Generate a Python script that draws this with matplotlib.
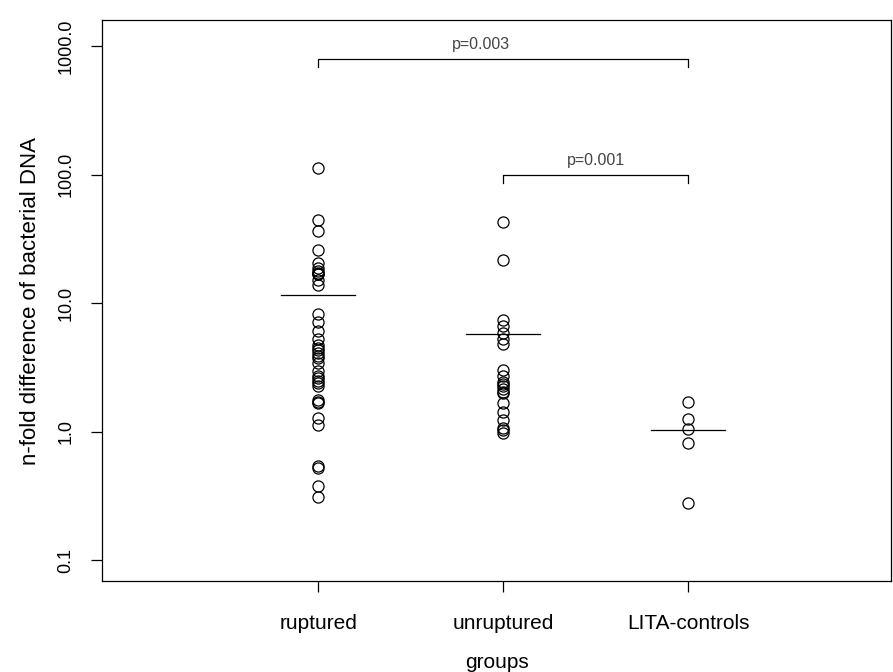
import numpy as np
import matplotlib
matplotlib.use("Agg")
import matplotlib.pyplot as plt

plt.rcParams['font.family'] = ['Liberation Sans', 'DejaVu Sans']

groups = ['ruptured', 'unruptured', 'LITA-controls']

# values (n-fold difference)
ruptured = [112.8, 44.1, 36.7, 26.1, 20.5, 18.9, 17.7, 17.2, 16.9, 16.7, 15.2, 13.9,
            8.24, 7.09, 6.04, 5.26, 4.75, 4.5, 4.3, 4.12, 3.9, 3.76, 3.44, 2.95,
            2.69, 2.6, 2.46, 2.4, 2.25, 1.77, 1.7, 1.67, 1.28, 1.13, 0.54, 0.52,
            0.38, 0.31]
unruptured = [42.5, 21.8, 7.44, 6.68, 5.89, 5.29, 4.84, 3.04, 2.73, 2.45, 2.35,
              2.28, 2.16, 2.05, 2.01, 1.68, 1.43, 1.24, 1.07, 1.02, 0.98]
lita = [1.69, 1.26, 1.05, 0.82, 0.28]

data = [ruptured, unruptured, lita]

# comparisons: from group, to group, label, bracket height, label x
comparisons = [(1, 3, 'p=0.003', 800.0, 1.88), (2, 3, 'p=0.001', 100.0, 2.5)]

ytick_vals = [0.1, 1.0, 10.0, 100.0, 1000.0]

fig = plt.figure(figsize=(8.93, 6.72), dpi=100)
ax = fig.add_axes([0.1142, 0.1354, 0.8838, 0.8346])

for i, vals in enumerate(data):
    x = np.full(len(vals), i + 1)
    ax.plot(x, vals, 'o', mfc='none', mec='black', ms=8, mew=0.9)
    m = np.mean(vals)
    ax.plot([i + 1 - 0.2, i + 1 + 0.2], [m, m], color='black', lw=0.9)

ax.set_yscale('log')
ax.set_ylim(10 ** -1.163, 10 ** 3.202)
ax.set_xlim(-0.168, 4.097)

for a, b, lab, h, tx in comparisons:
    tick = h / 1.16
    ax.plot([a, a, b, b], [tick, h, h, tick], color='black', lw=0.9)
    ax.text(tx, h * 1.12, lab, ha='center', va='bottom',
            fontsize=11.5, color='#444444')

ax.set_yticks(ytick_vals)
ax.set_yticklabels(['%.1f' % v for v in ytick_vals], rotation=90, va='center')
ax.yaxis.set_minor_locator(matplotlib.ticker.NullLocator())
ax.set_xticks([1, 2, 3])
ax.set_xticklabels(groups)

ax.tick_params(axis='both', direction='out', length=8, width=0.9,
               colors='black')
ax.tick_params(axis='x', pad=16, labelsize=15)
ax.tick_params(axis='y', pad=12, labelsize=13)
for s in ax.spines.values():
    s.set_linewidth(0.9)

ax.set_xlabel('groups', fontsize=15, labelpad=14)
ax.set_ylabel('n-fold difference of bacterial DNA', fontsize=16, labelpad=12)

fig.savefig('out.png', dpi=100)
